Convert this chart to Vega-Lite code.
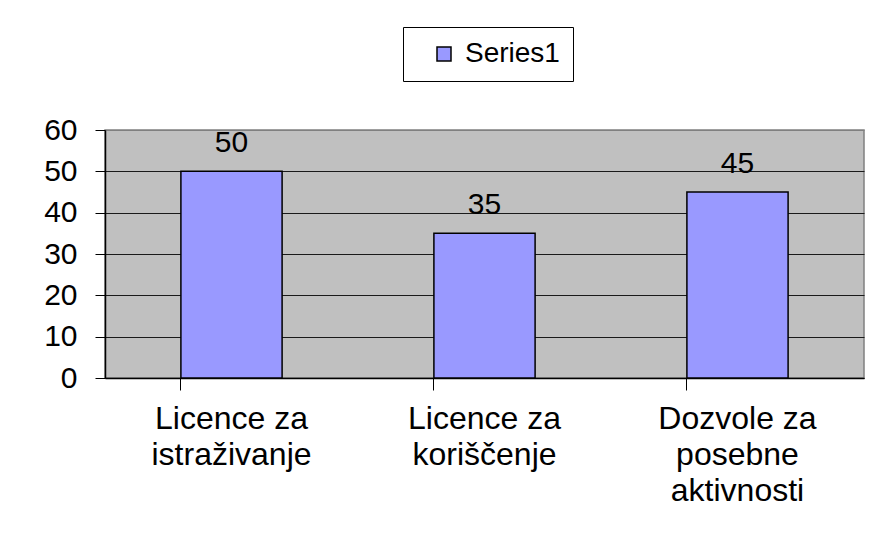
{
  "$schema": "https://vega.github.io/schema/vega-lite/v6.json",
  "autosize": "none",
  "width": 759,
  "height": 248,
  "padding": {"left": 105, "top": 130, "right": 18, "bottom": 174},
  "background": "white",
  "config": {
    "font": "Liberation Sans",
    "view": {"fill": "#C0C0C0", "stroke": "#808080", "strokeWidth": 1.5}
  },
  "data": {
    "values": [
      {"category": "Licence za istraživanje", "value": 50, "series": "Series1"},
      {"category": "Licence za koriščenje", "value": 35, "series": "Series1"},
      {"category": "Dozvole za posebne aktivnosti", "value": 45, "series": "Series1"}
    ]
  },
  "encoding": {
    "x": {
      "field": "category",
      "type": "nominal",
      "sort": null,
      "scale": {"paddingInner": 0.6, "paddingOuter": 0.3},
      "axis": {
        "title": null,
        "labelAngle": 0,
        "labelFont": "Liberation Sans",
        "labelFontSize": 32,
        "labelColor": "black",
        "labelLineHeight": 36,
        "labelPadding": 13,
        "labelExpr": "datum.label == 'Dozvole za posebne aktivnosti' ? ['Dozvole za', 'posebne', 'aktivnosti'] : [slice(datum.label, 0, 10), slice(datum.label, 11)]",
        "bandPosition": 0,
        "tickSize": 12,
        "tickColor": "black",
        "domainColor": "black",
        "domainWidth": 1.5,
        "grid": false
      }
    },
    "y": {
      "field": "value",
      "type": "quantitative",
      "scale": {"domain": [0, 60], "nice": false},
      "axis": {
        "title": null,
        "values": [0, 10, 20, 30, 40, 50, 60],
        "labelFont": "Liberation Sans",
        "labelFontSize": 30,
        "labelColor": "black",
        "labelPadding": 18,
        "tickSize": 10,
        "tickColor": "black",
        "domainColor": "black",
        "domainWidth": 1.5,
        "grid": true,
        "gridColor": {"condition": {"test": "datum.value == 60", "value": "#808080"}, "value": "#1a1a1a"},
        "gridWidth": 1.2
      }
    }
  },
  "layer": [
    {
      "mark": {"type": "bar", "stroke": "black", "strokeWidth": 1.5},
      "encoding": {
        "color": {
          "field": "series",
          "type": "nominal",
          "scale": {"range": ["#9999FF"]},
          "legend": {
            "title": null,
            "orient": "none",
            "legendX": 298,
            "legendY": -103,
            "direction": "vertical",
            "padding": 13,
            "strokeColor": "#000000",
            "fillColor": "white",
            "symbolType": "square",
            "symbolSize": 196,
            "symbolStrokeColor": "black",
            "symbolStrokeWidth": 1.5,
            "symbolOffset": 14,
            "labelOffset": 7,
            "labelFont": "Liberation Sans",
            "labelFontSize": 28,
            "labelColor": "black"
          }
        }
      }
    },
    {
      "mark": {"type": "text", "baseline": "alphabetic", "dy": -19, "fontSize": 30, "font": "Liberation Sans", "color": "black"},
      "encoding": {"text": {"field": "value", "type": "quantitative"}}
    }
  ]
}
